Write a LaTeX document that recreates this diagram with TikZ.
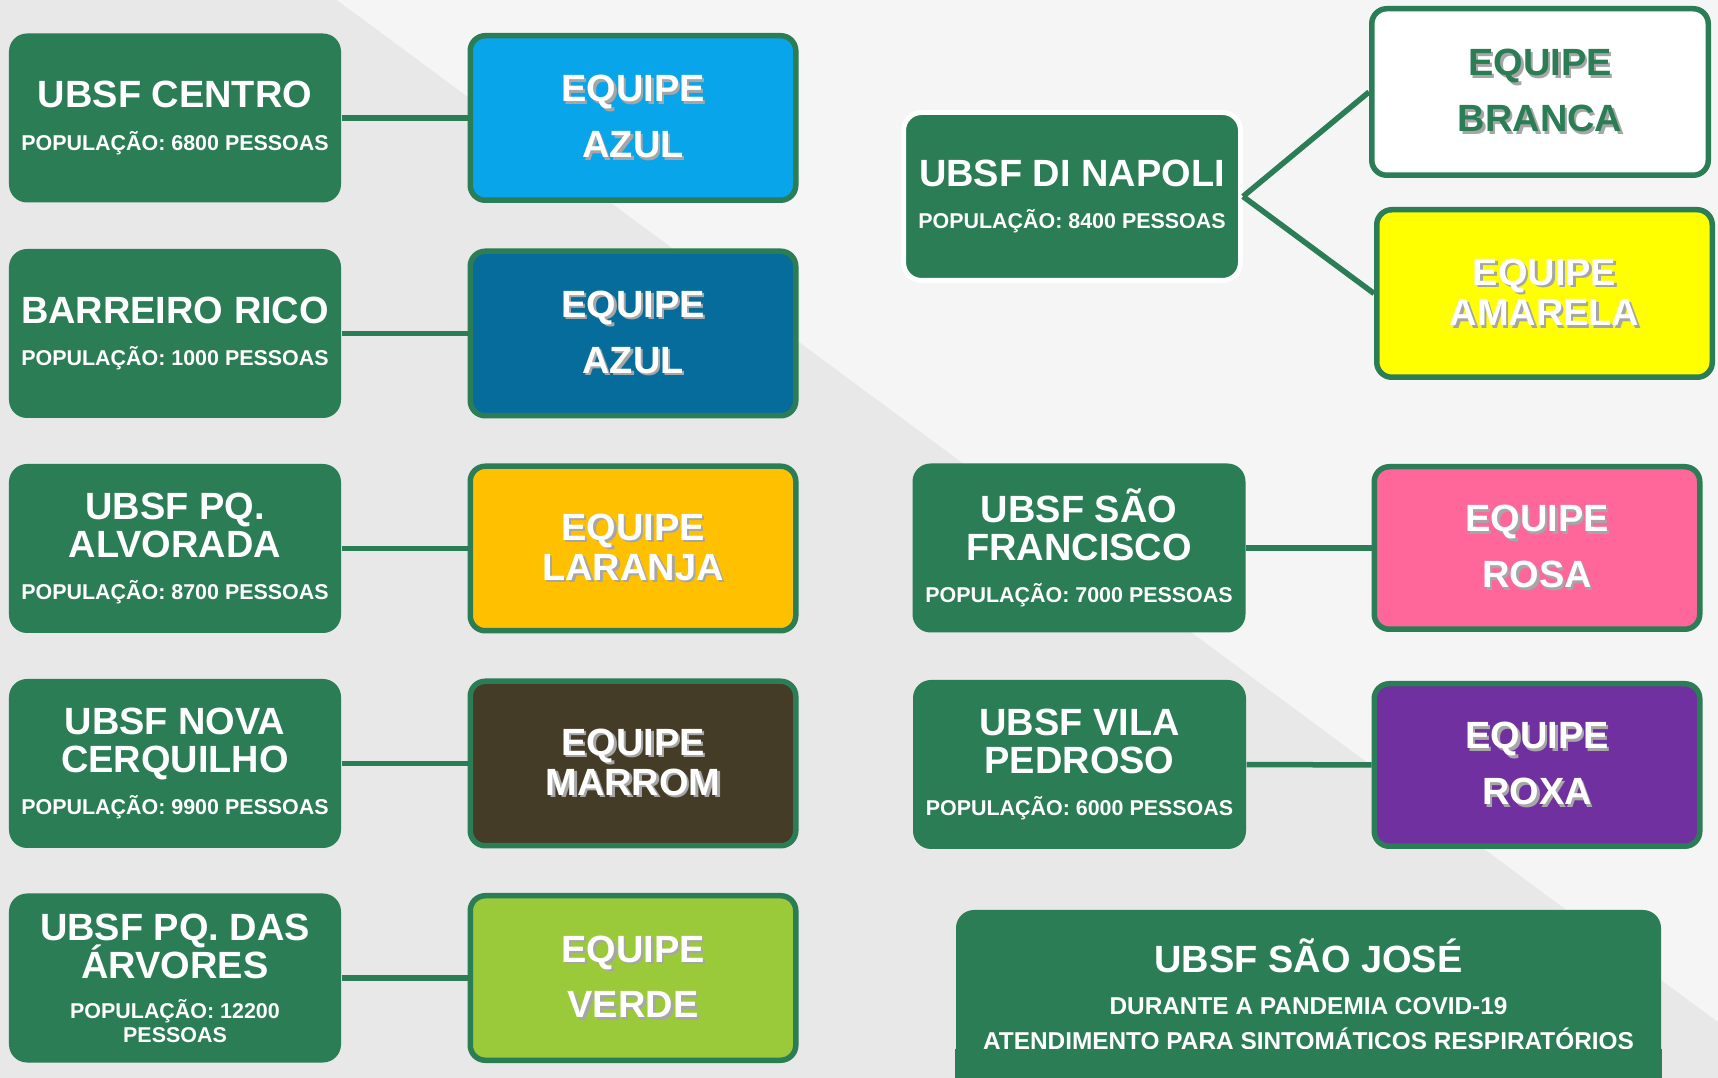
\documentclass[tikz,border=0pt]{standalone}
\usepackage{fontspec}
\setmainfont{Liberation Sans}
\usetikzlibrary{positioning}
\usepackage{xcolor}

\definecolor{ubsfgreen}{RGB}{42,125,84}
\definecolor{bgdark}{RGB}{231,232,231}
\definecolor{bglight}{RGB}{245,245,245}
\definecolor{azulclaro}{RGB}{8,165,235}
\definecolor{azulescuro}{RGB}{6,108,156}
\definecolor{laranja}{RGB}{255,192,0}
\definecolor{marrom}{RGB}{69,60,40}
\definecolor{verde}{RGB}{154,202,58}
\definecolor{amarela}{RGB}{255,255,0}
\definecolor{rosa}{RGB}{255,102,153}
\definecolor{roxa}{RGB}{112,48,160}

\newcommand{\teamtxt}[1]{\rlap{\kern0.25mm\raisebox{-0.25mm}{\textcolor{black!35}{#1}}}#1}
\newcommand{\popfont}{\fontsize{6.1}{7}\selectfont}
\newcommand{\sjfont}{\fontsize{6.94}{8}\selectfont}
\newcommand{\tightlines}{\lineskiplimit=-20pt\relax}

\tikzset{
  ubsf/.style={fill=ubsfgreen, rounded corners=1.8mm, text=white, align=center,
    inner sep=0pt, minimum width=3.32cm, minimum height=1.69cm,
    font=\fontsize{10.8}{11.2}\selectfont\bfseries\tightlines},
  team/.style={draw=ubsfgreen, line width=0.55mm, rounded corners=1.5mm, text=white,
    align=center, inner sep=0pt, minimum width=3.255cm, minimum height=1.645cm,
    font=\fontsize{10.8}{15.9}\selectfont\bfseries},
  teamtight/.style={team, font=\fontsize{10.8}{11.4}\selectfont\bfseries},
  link/.style={draw=ubsfgreen, line width=0.55mm},
}

\begin{document}
\begin{tikzpicture}
  \useasboundingbox (0,0) rectangle (17.18,-10.78);
  \clip (0,0) rectangle (17.18,-10.78);
  % background
  \fill[bgdark] (0,0) rectangle (17.18,-10.78);
  \fill[bglight] (3.37,0) -- (17.18,0) -- (17.18,-10.22) -- cycle;

  % left column
  \node[ubsf] (u1) at (1.75,-1.18) {UBSF CENTRO\\[0.8pt] {\popfont POPULAÇÃO: 6800 PESSOAS}};
  \node[ubsf] (u2) at (1.75,-3.335) {BARREIRO RICO\\[0.8pt] {\popfont POPULAÇÃO: 1000 PESSOAS}};
  \node[ubsf] (u3) at (1.75,-5.485) {UBSF PQ.\\[-0.4pt] ALVORADA\\[0.6pt] {\popfont POPULAÇÃO: 8700 PESSOAS}};
  \node[ubsf] (u4) at (1.75,-7.635) {UBSF NOVA\\[-0.4pt] CERQUILHO\\[0.6pt] {\popfont POPULAÇÃO: 9900 PESSOAS}};
  \node[ubsf] (u5) at (1.75,-9.78) {UBSF PQ. DAS\\[-0.3pt] ÁRVORES\\[0.3pt] {\popfont POPULAÇÃO: 12200}\\[-4.65pt] {\popfont PESSOAS}};

  \node[team, fill=azulclaro] (e1) at (6.33,-1.18) {\teamtxt{EQUIPE}\\\teamtxt{AZUL}};
  \node[team, fill=azulescuro] (e2) at (6.33,-3.335) {\teamtxt{EQUIPE}\\\teamtxt{AZUL}};
  \node[teamtight, fill=laranja] (e3) at (6.33,-5.485) {\teamtxt{EQUIPE}\\\teamtxt{LARANJA}};
  \node[teamtight, fill=marrom] (e4) at (6.33,-7.635) {\teamtxt{EQUIPE}\\\teamtxt{MARROM}};
  \node[team, fill=verde] (e5) at (6.33,-9.78) {\teamtxt{EQUIPE}\\\teamtxt{VERDE}};

  \foreach \i in {1,...,5} {
    \draw[link] (u\i) -- (e\i);
  }

  % right column
  \node[ubsf, draw=white, line width=0.5mm, minimum width=3.37cm, minimum height=1.68cm]
    (dn) at (10.72,-1.965) {UBSF DI NAPOLI\\[0.8pt] {\popfont POPULAÇÃO: 8400 PESSOAS}};
  \node[team, fill=white, text=ubsfgreen, minimum width=3.365cm, minimum height=1.665cm]
    (br) at (15.40,-0.92) {\teamtxt{EQUIPE}\\\teamtxt{BRANCA}};
  \node[teamtight, fill=amarela, minimum width=3.355cm, minimum height=1.675cm]
    (am) at (15.445,-2.935) {\teamtxt{EQUIPE}\\\teamtxt{AMARELA}};
  \draw[link] (dn.east) -- (br.west);
  \draw[link] (dn.east) -- (am.west);

  \node[ubsf, minimum width=3.33cm] (sf) at (10.79,-5.48) {UBSF SÃO\\[-0.4pt] FRANCISCO\\[0.6pt] {\popfont POPULAÇÃO: 7000 PESSOAS}};
  \node[team, fill=rosa, minimum height=1.625cm] (ro) at (15.37,-5.48) {\teamtxt{EQUIPE}\\\teamtxt{ROSA}};
  \node[ubsf, minimum width=3.33cm] (vp) at (10.795,-7.645) {UBSF VILA\\[-0.4pt] PEDROSO\\[0.6pt] {\popfont POPULAÇÃO: 6000 PESSOAS}};
  \node[team, fill=roxa, minimum height=1.625cm] (rx) at (15.37,-7.65) {\teamtxt{EQUIPE}\\\teamtxt{ROXA}};
  \draw[link] (sf) -- (ro);
  \draw[link] (vp) -- (rx);

  \node[ubsf, minimum width=7.05cm, minimum height=1.68cm, font=\fontsize{10.8}{12}\selectfont\bfseries]
    (sj) at (13.085,-9.94) {UBSF SÃO JOSÉ\\{\sjfont DURANTE A PANDEMIA COVID-19}\\[-2pt] {\sjfont ATENDIMENTO PARA SINTOMÁTICOS RESPIRATÓRIOS}};
  \fill[ubsfgreen] ([yshift=3mm]sj.south west) rectangle ([yshift=-1mm]sj.south east);
\end{tikzpicture}
\end{document}
